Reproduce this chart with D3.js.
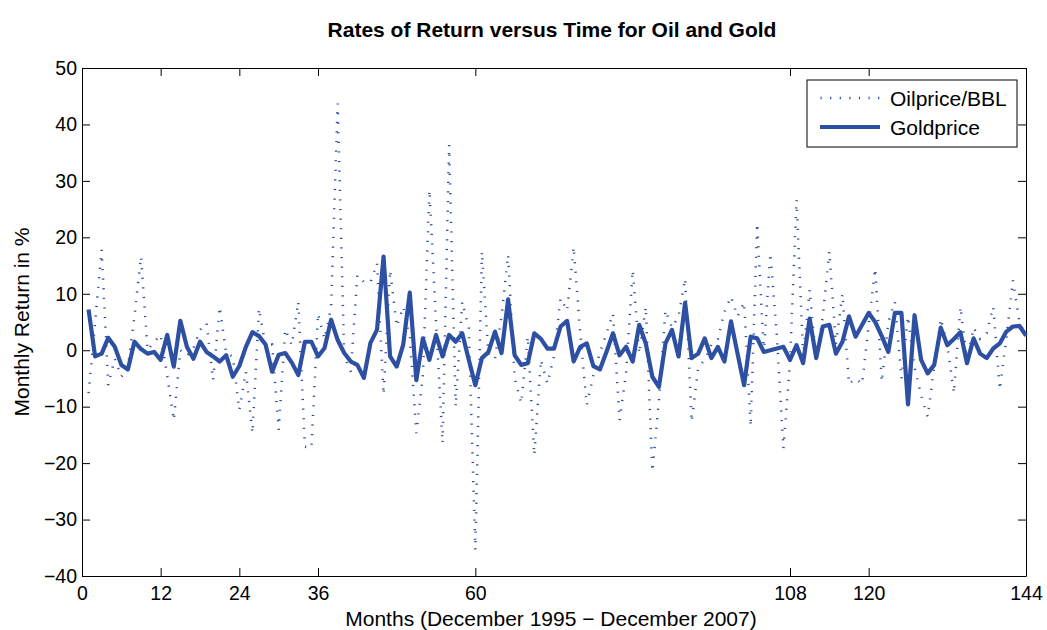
<!DOCTYPE html>
<html>
<head>
<meta charset="utf-8">
<script src="https://cdn.jsdelivr.net/npm/d3@7"></script>
<style>
  body { margin: 0; background: #fff; }
  svg { font-family: 'Liberation Sans', Arial, Helvetica, sans-serif; }
</style>
</head>
<body>
<svg id="canvas" width="1047" height="630"></svg>
<script>
// monthly returns in %, month 1 .. 144 (Dec 1995 - Dec 2007)
let oilReturns = [
  -7.6, 5, 17.8, -6.2, -1.5, -4.7, -3, 6, 16.6, 0, 1.5, 2.7,
  -4.5, -12.4, 0, -1, 0.3, 3.6, 4.8, -5.3, 7.7, -0.6, -1.1, -10.6,
  -3.8, -14.7, 7.4, 0.7, 1, -14.1, 3.7, 0.9, 8.6, -17.1, -17.3, 6.5,
  2, 7.7, 43.7, -1.1, -3.8, 13.3, 12.1, 12, 15.4, -7.9, 14.2, 4.2,
  7.7, 2.4, -14.7, -4.4, 28.4, 5, -16.5, 36.4, -10, 8.6, 4, -35.4,
  17.5, -1, -1.5, 6, 16.9, -5, -9.4, 2.4, -18.6, -1.7, -5.9, -1,
  9.2, 7, 18.3, 3, -9.7, -4.5, -0.5, 3, 6.5, -12.4, -4, 14.2,
  -0.6, 7.7, -21.5, -9, 7.1, 4, 6, 12.7, -12.7, -3, -1.7, 1,
  2, 6.8, 9.5, 6, 8.5, -13.5, 22.5, -0.5, 17.2, 2.4, -17.4, -2,
  26.7, -1, 10.7, -2, 6, 17.5, 1, 10, -6, -5, -6, 4.5,
  14.5, -5.6, 5, 8.6, -5, 6, -3, -8, -11.8, -3, 5.6, 1,
  -7.6, 7.7, -2, 4, 2, 3, 7.7, -7, 2, 12.4, 5, 2.5
]
let goldReturns = [
  7.2, -1.1, -0.6, 2.2, 0.6, -2.6, -3.4, 1.5, 0.2, -0.6, -0.3, -1.7,
  2.7, -2.9, 5.2, 0.6, -1.5, 1.5, -0.3, -1.1, -2, -0.9, -4.7, -2.8,
  0.6, 3.2, 2.5, 1, -3.8, -0.8, -0.5, -2.2, -4.4, 1.5, 1.5, -1.1,
  0.4, 5.4, 1.8, -0.5, -2, -2.6, -4.9, 1.3, 3.6, 16.6, -1.1, -2.9,
  1, 10.2, -5.3, 2.1, -1.7, 2.7, -1.1, 2.7, 1.5, 3, -1.7, -6.2,
  -1.4, -0.3, 3.3, -0.5, 9, -0.9, -2.6, -2.3, 3, 2, 0.3, 0.3,
  4.2, 5.2, -2, 0.6, 1.2, -2.8, -3.4, -0.3, 3, -0.9, 0.6, -2,
  4.5, 1.2, -4.7, -6.5, 1.2, 3.6, -1.1, 8.4, -1.4, -0.6, 2.1, -1.4,
  0.6, -2, 5.1, -0.6, -6.2, 2.4, 2.1, -0.3, 0, 0.3, 0.6, -1.7,
  0.9, -2.3, 5.6, -1.4, 4.2, 4.5, -0.6, 1.5, 6, 2.4, 4.5, 6.6,
  5, 2.5, -0.3, 6.6, 6.6, -9.6, 6.2, -1.7, -4.1, -2.6, 4, 0.9,
  2, 3.2, -2.3, 2.1, -0.6, -1.4, 0.3, 1.2, 3.3, 4.2, 4.3, 2.6
]
let months = oilReturns.map((v, i) => i + 1)

let xTicks = [0, 12, 24, 36, 60, 108, 120, 144]
let yTicks = [-40, -30, -20, -10, 0, 10, 20, 30, 40, 50]

let seriesNames = ['Oilprice/BBL', 'Goldprice']

let blue = '#2e50a3'
let plotLeft = 82, plotRight = 1026, plotTop = 68, plotBottom = 576

let canvas = d3.select('#canvas')

let xScale = d3.scaleLinear().domain([0, 144]).range([plotLeft, plotRight])
let yScale = d3.scaleLinear().domain([-40, 50]).range([plotBottom, plotTop])

// axes, ticks pointing inwards like matlab
canvas.append('g')
  .attr('transform', 'translate(0,' + plotBottom + ')')
  .call(d3.axisBottom(xScale).tickValues(xTicks).tickSizeInner(-8).tickSizeOuter(0).tickPadding(10))
canvas.append('g')
  .attr('transform', 'translate(0,' + plotTop + ')')
  .call(d3.axisTop(xScale).tickValues(xTicks).tickSizeInner(-8).tickSizeOuter(0).tickFormat(''))
canvas.append('g')
  .attr('transform', 'translate(' + plotLeft + ',0)')
  .call(d3.axisLeft(yScale).tickValues(yTicks).tickSizeInner(-8).tickSizeOuter(0).tickPadding(5))
canvas.append('g')
  .attr('transform', 'translate(' + plotRight + ',0)')
  .call(d3.axisRight(yScale).tickValues(yTicks).tickSizeInner(-8).tickSizeOuter(0).tickFormat(''))

canvas.selectAll('.tick text')
  .style('font-size', '19.5px')
  .style('font-family', "'Liberation Sans', Arial, sans-serif")
  .attr('fill', '#000')
canvas.selectAll('.tick line').attr('stroke', '#000')
canvas.selectAll('.domain').attr('stroke', '#000')

let lineGen = d3.line()
  .x((d) => xScale(d[0]))
  .y((d) => yScale(d[1]))

canvas.append('path')
  .datum(months.map((m, i) => [m, oilReturns[i]]))
  .attr('d', lineGen)
  .attr('fill', 'none')
  .attr('stroke', blue)
  .attr('stroke-width', 2.5)
  .attr('stroke-dasharray', '1.2,8.4')

canvas.append('path')
  .datum(months.map((m, i) => [m, goldReturns[i]]))
  .attr('d', lineGen)
  .attr('fill', 'none')
  .attr('stroke', blue)
  .attr('stroke-width', 4.2)
  .attr('stroke-linejoin', 'round')

// legend
let legend = canvas.append('g')
legend.append('rect')
  .attr('x', 807).attr('y', 80)
  .attr('width', 210).attr('height', 67)
  .attr('fill', '#fff').attr('stroke', '#000').attr('stroke-width', 1)
legend.append('line')
  .attr('x1', 820).attr('x2', 880).attr('y1', 98).attr('y2', 98)
  .attr('stroke', blue).attr('stroke-width', 2.5)
  .attr('stroke-dasharray', '1.2,8.4').attr('stroke-dashoffset', -0.5)
legend.append('line')
  .attr('x1', 820).attr('x2', 880).attr('y1', 127).attr('y2', 127)
  .attr('stroke', blue).attr('stroke-width', 4.2)
legend.selectAll('text')
  .data(seriesNames)
  .enter()
  .append('text')
  .attr('x', 890)
  .attr('y', (d, i) => 106 + i * 29)
  .style('font-size', '21px')
  .text((d) => d)

// titles
canvas.append('text')
  .attr('x', 552).attr('y', 37)
  .attr('text-anchor', 'middle')
  .style('font-size', '21px')
  .style('font-weight', 'bold')
  .text('Rates of Return versus Time for Oil and Gold')
canvas.append('text')
  .attr('x', 551).attr('y', 626)
  .attr('text-anchor', 'middle')
  .style('font-size', '21px')
  .text('Months (December 1995 \u2212 December 2007)')
canvas.append('text')
  .attr('transform', 'translate(29,322) rotate(-90)')
  .attr('text-anchor', 'middle')
  .style('font-size', '21px')
  .text('Monthly Return in %')
</script>
</body>
</html>
